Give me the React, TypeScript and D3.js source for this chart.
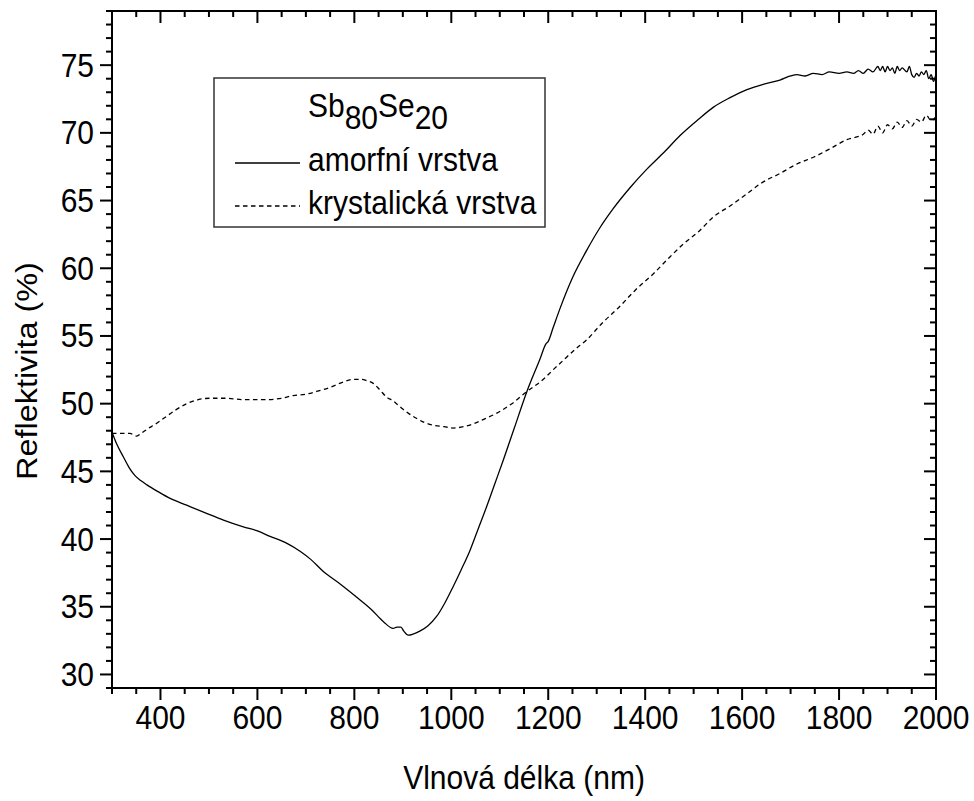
import React from "react";
import * as d3 from "d3";

// ---- data ----
const amorfData: [number, number][] = [
  [300, 47.9], [310, 47.0], [323, 46.1], [335, 45.3], [347, 44.7], [360, 44.3], [372, 44.0],
  [395, 43.5], [420, 43.0], [454, 42.5], [495, 41.9], [530, 41.4], [571, 40.9], [600, 40.6],
  [626, 40.2], [660, 39.7], [688, 39.1], [710, 38.5], [736, 37.6], [770, 36.7], [805, 35.7],
  [835, 34.8], [860, 33.9], [880, 33.4], [888, 33.5], [896, 33.5], [902, 33.2], [911, 32.9],
  [935, 33.2], [952, 33.6], [970, 34.3], [987, 35.3], [1004, 36.5], [1020, 37.7], [1039, 39.2],
  [1056, 40.8], [1073, 42.4], [1090, 44.1], [1107, 45.8], [1130, 48.2], [1156, 50.9],
  [1183, 53.3], [1195, 54.4], [1200, 54.6], [1210, 55.6], [1224, 57.0], [1250, 59.3],
  [1279, 61.3], [1305, 62.9], [1334, 64.4], [1370, 66.0], [1403, 67.3], [1440, 68.6],
  [1472, 69.8], [1510, 71.0], [1541, 71.9], [1575, 72.6], [1610, 73.2], [1645, 73.6],
  [1678, 73.9], [1700, 74.2], [1713, 74.3], [1730, 74.2], [1747, 74.4], [1765, 74.3],
  [1780, 74.5], [1800, 74.4], [1816, 74.5], [1830, 74.4], [1840, 74.6], [1850, 74.4],
  [1860, 74.7], [1870, 74.5], [1880, 74.9], [1885, 74.6], [1890, 74.9], [1895, 74.5],
  [1900, 74.9], [1905, 74.6], [1910, 74.8], [1915, 74.4], [1920, 74.9], [1925, 74.6],
  [1930, 74.8], [1940, 74.5], [1945, 74.9], [1950, 74.3], [1955, 74.1], [1960, 74.4],
  [1965, 74.2], [1970, 74.5], [1975, 74.3], [1980, 74.6], [1985, 74.0], [1990, 74.3],
  [1995, 73.8], [2000, 74.4],
];

const krystData: [number, number][] = [
  [300, 47.8], [320, 47.8], [337, 47.8], [351, 47.6], [360, 47.8], [372, 48.1], [390, 48.5],
  [406, 48.9], [430, 49.5], [454, 50.0], [478, 50.3], [502, 50.4], [535, 50.4], [571, 50.3],
  [619, 50.3], [650, 50.4], [674, 50.6], [700, 50.7], [722, 50.9], [750, 51.2], [777, 51.6],
  [800, 51.8], [812, 51.8], [825, 51.7], [839, 51.5], [853, 51.0], [866, 50.5], [880, 50.2],
  [887, 50.0], [900, 49.6], [911, 49.3], [929, 48.9], [945, 48.6], [963, 48.4], [985, 48.3],
  [1004, 48.2], [1025, 48.3], [1045, 48.5], [1070, 48.9], [1094, 49.3], [1125, 50.0],
  [1156, 50.9], [1190, 51.8], [1210, 52.5], [1231, 53.2], [1255, 54.0], [1279, 54.7],
  [1310, 55.9], [1348, 57.2], [1380, 58.4], [1417, 59.6], [1450, 60.8], [1479, 61.8],
  [1510, 62.7], [1541, 63.8], [1575, 64.6], [1610, 65.5], [1640, 66.3], [1678, 67.0],
  [1713, 67.7], [1747, 68.2], [1780, 68.8], [1816, 69.5], [1850, 69.9], [1860, 70.2],
  [1870, 69.9], [1880, 70.5], [1890, 70.0], [1900, 70.6], [1910, 70.3], [1920, 70.8],
  [1930, 70.4], [1940, 70.9], [1950, 70.5], [1960, 71.0], [1970, 70.8], [1980, 71.3],
  [1990, 70.9], [2000, 71.2],
];

const xTicks = [400, 600, 800, 1000, 1200, 1400, 1600, 1800, 2000];
const xMinorTicks = d3.range(300, 2001, 50);
const yTicks = [30, 35, 40, 45, 50, 55, 60, 65, 70, 75];
const yMinorTicks = d3.range(29, 80, 1);

const legendTitle = ["Sb", "80", "Se", "20"];
const legendLabels = ["amorfní vrstva", "krystalická vrstva"];
const xTitle = "Vlnová délka (nm)";
const yTitle = "Reflektivita (%)";

// ---- layout ----
const W = 974;
const H = 801;
const L = 112, R = 936, T = 11, B = 688;
const FONT = "'Liberation Sans', Arial, Helvetica, sans-serif";
const SY = 1.08; // vertical stretch of the text in the reference

export default function App() {
  const x = d3.scaleLinear().domain([300, 2000]).range([L, R]);
  const y = d3.scaleLinear().domain([29, 79]).range([B, T]);
  const line = d3
    .line<[number, number]>()
    .x((d) => x(d[0]))
    .y((d) => y(d[1]))
    .curve(d3.curveMonotoneX);

  const majorLen = 12;
  const minorLen = 6;
  const tw = 2;

  const T_ = (px: number, py: number) => `translate(${px},${py}) scale(1,${SY})`;

  return (
    <svg
      width={W}
      height={H}
      style={{ position: "absolute", left: 0, top: 0, background: "#fff" }}
      fontFamily={FONT}
    >
      <rect x={0} y={0} width={W} height={H} fill="#fff" />
      {/* curves */}
      <path d={line(amorfData) || ""} fill="none" stroke="#000" strokeWidth={1.3} />
      <path
        d={line(krystData) || ""}
        fill="none"
        stroke="#000"
        strokeWidth={1.3}
        strokeDasharray="4.5,3.5"
      />

      {/* minor ticks */}
      {xMinorTicks
        .filter((v) => !xTicks.includes(v))
        .map((v) => (
          <g key={"xm" + v} stroke="#000" strokeWidth={tw}>
            <line x1={x(v)} x2={x(v)} y1={B} y2={B + minorLen} />
            <line x1={x(v)} x2={x(v)} y1={T} y2={T + minorLen} />
          </g>
        ))}
      {yMinorTicks
        .filter((v) => !yTicks.includes(v))
        .map((v) => (
          <g key={"ym" + v} stroke="#000" strokeWidth={tw}>
            <line x1={L - minorLen} x2={L} y1={y(v)} y2={y(v)} />
            <line x1={R - minorLen} x2={R} y1={y(v)} y2={y(v)} />
          </g>
        ))}
      {/* major ticks */}
      {xTicks.map((v) => (
        <g key={"xM" + v} stroke="#000" strokeWidth={tw}>
          <line x1={x(v)} x2={x(v)} y1={B} y2={B + majorLen} />
          <line x1={x(v)} x2={x(v)} y1={T} y2={T + majorLen} />
        </g>
      ))}
      {yTicks.map((v) => (
        <g key={"yM" + v} stroke="#000" strokeWidth={tw}>
          <line x1={L - majorLen} x2={L} y1={y(v)} y2={y(v)} />
          <line x1={R - majorLen} x2={R} y1={y(v)} y2={y(v)} />
        </g>
      ))}

      {/* frame */}
      <rect x={L} y={T} width={R - L} height={B - T} fill="none" stroke="#000" strokeWidth={2} />

      {/* tick labels */}
      {xTicks.map((v) => (
        <text key={"xl" + v} transform={T_(x(v), 729)} textAnchor="middle" fontSize={30} fill="#000">
          {v}
        </text>
      ))}
      {yTicks.map((v) => (
        <text key={"yl" + v} transform={T_(94, y(v) + 11.5)} textAnchor="end" fontSize={30} fill="#000">
          {v}
        </text>
      ))}

      {/* axis titles */}
      <text transform={T_((L + R) / 2, 789)} textAnchor="middle" fontSize={30} fill="#000">
        {xTitle}
      </text>
      <text
        transform={`translate(37,371) scale(1,${SY}) rotate(-90)`}
        textAnchor="middle"
        fontSize={30}
        fill="#000"
      >
        {yTitle}
      </text>

      {/* legend */}
      <rect x={214} y={78} width={331} height={149} fill="#fff" stroke="#333" strokeWidth={1.5} />
      <text transform={T_(378, 117)} textAnchor="middle" fontSize={30} fill="#000">
        <tspan>{legendTitle[0]}</tspan>
        <tspan dy={11}>{legendTitle[1]}</tspan>
        <tspan dy={-11}>{legendTitle[2]}</tspan>
        <tspan dy={11}>{legendTitle[3]}</tspan>
      </text>
      <line x1={235} x2={300} y1={163} y2={163} stroke="#000" strokeWidth={1.3} />
      <text transform={T_(308, 171)} fontSize={30} fill="#000">
        {legendLabels[0]}
      </text>
      <line
        x1={235}
        x2={300}
        y1={206}
        y2={206}
        stroke="#000"
        strokeWidth={1.3}
        strokeDasharray="4.5,3.5"
      />
      <text transform={T_(308, 214)} fontSize={30} fill="#000">
        {legendLabels[1]}
      </text>
    </svg>
  );
}
